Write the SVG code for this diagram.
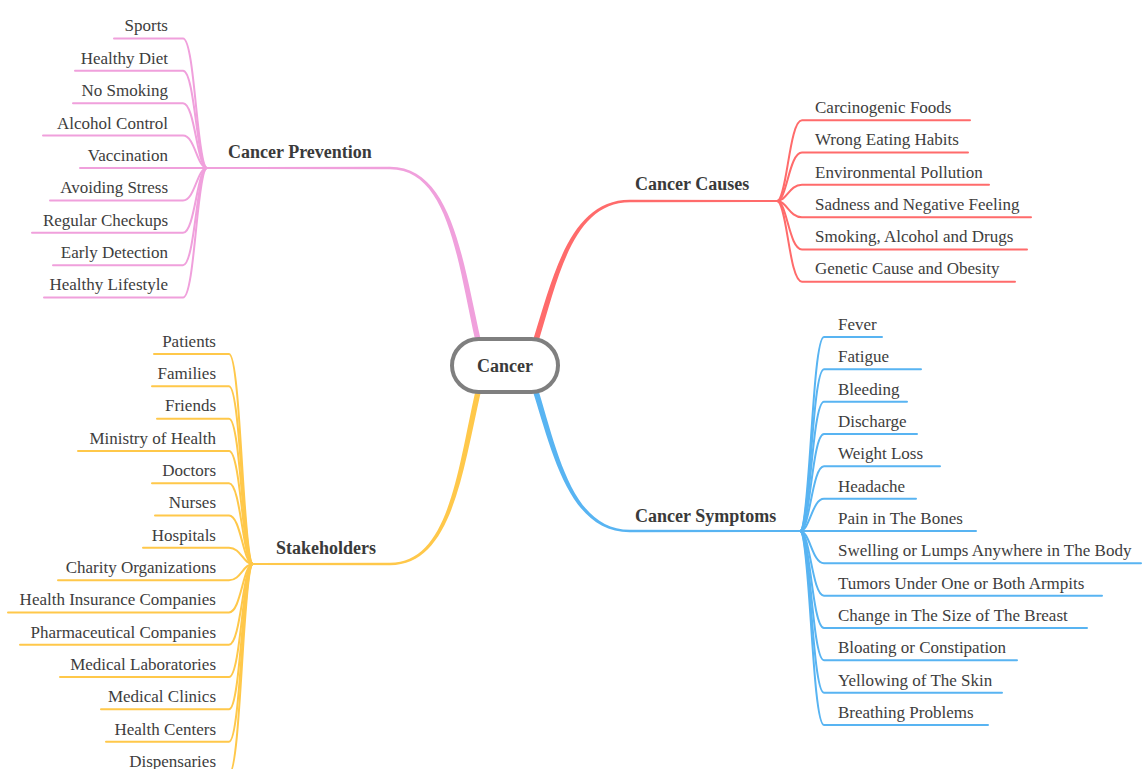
<svg xmlns="http://www.w3.org/2000/svg" width="1142" height="769" viewBox="0 0 1142 769">
<style>
.lf{font-family:"Liberation Serif","Times New Roman",serif;font-size:17px;fill:#3d3d3d}
.end{text-anchor:end}
.tt{font-family:"Liberation Serif","Times New Roman",serif;font-size:18px;font-weight:bold;fill:#3a3a3a}
.c{fill:none;stroke-width:2;stroke-linecap:round}
.pk{stroke:#F0A0DC}.rd{stroke:#FF6B6B}.bl{stroke:#58B4F2}.yl{stroke:#FFC84A}
</style>
<rect width="1142" height="769" fill="#fff"/>
<g id="connectors">
  <!-- main branches (tapered) -->
  <path fill="#F0A0DC" d="M475.3,340.6 C457.4,260.4 448.4,169.2 390,169.2 L207,169 L207,167 L390,166.8 C451.6,166.8 462.6,259.6 480.7,339.4 Z"/>
  <path fill="#FF6B6B" d="M533.3,339.2 C553.5,274.4 570.6,199.6 630,199.8 L777,200 L777,202 L630,202.2 C573.4,202.4 558.5,275.7 538.7,340.8 Z"/>
  <path fill="#58B4F2" d="M533.3,392.8 C553.5,457.6 570.6,532.4 630,532.2 L800,532 L800,530 L630,529.8 C573.4,529.6 558.5,456.3 538.7,391.2 Z"/>
  <path fill="#FFC84A" d="M475.3,391.4 C457.4,471.6 448.4,562.8 390,562.8 L253,563 L253,565 L390,565.2 C451.6,565.2 462.6,472.4 480.7,392.6 Z"/>
  <!-- prevention leaves -->
  <g class="c pk">
    <path d="M207,168 C197,168 195,38.4 183,38.4 L114,38.4"/>
    <path d="M207,168 C197,168 195,70.8 183,70.8 L75,70.8"/>
    <path d="M207,168 C197,168 195,103.2 183,103.2 L73,103.2"/>
    <path d="M207,168 C197,168 195,135.6 183,135.6 L43,135.6"/>
    <path d="M207,168 L80,168"/>
    <path d="M207,168 C197,168 195,200.4 183,200.4 L50,200.4"/>
    <path d="M207,168 C197,168 195,232.8 183,232.8 L32,232.8"/>
    <path d="M207,168 C197,168 195,265.2 183,265.2 L53,265.2"/>
    <path d="M207,168 C197,168 195,297.6 183,297.6 L44,297.6"/>
  </g>
  <!-- causes leaves -->
  <g class="c rd">
    <path d="M777,201 C787,201 789,120.25 802,120.25 L970,120.25"/>
    <path d="M777,201 C787,201 789,152.55 802,152.55 L968,152.55"/>
    <path d="M777,201 C787,201 789,184.85 802,184.85 L989,184.85"/>
    <path d="M777,201 C787,201 789,217.15 802,217.15 L1031,217.15"/>
    <path d="M777,201 C787,201 789,249.45 802,249.45 L1027,249.45"/>
    <path d="M777,201 C787,201 789,281.75 802,281.75 L1015,281.75"/>
  </g>
  <!-- symptoms leaves -->
  <g class="c bl">
    <path d="M800,531 C810,531 812,337 824,337 L882,337"/>
    <path d="M800,531 C810,531 812,369.3 824,369.3 L921,369.3"/>
    <path d="M800,531 C810,531 812,401.7 824,401.7 L907,401.7"/>
    <path d="M800,531 C810,531 812,434 824,434 L917,434"/>
    <path d="M800,531 C810,531 812,466.3 824,466.3 L940,466.3"/>
    <path d="M800,531 C810,531 812,498.7 824,498.7 L916,498.7"/>
    <path d="M800,531 L976,531"/>
    <path d="M800,531 C810,531 812,563.3 824,563.3 L1141,563.3"/>
    <path d="M800,531 C810,531 812,595.7 824,595.7 L1102,595.7"/>
    <path d="M800,531 C810,531 812,628 824,628 L1087,628"/>
    <path d="M800,531 C810,531 812,660.3 824,660.3 L1017,660.3"/>
    <path d="M800,531 C810,531 812,692.7 824,692.7 L1002,692.7"/>
    <path d="M800,531 C810,531 812,725 824,725 L988,725"/>
  </g>
  <!-- stakeholder leaves -->
  <g class="c yl">
    <path d="M253,564 C243,564 241,354.05 229,354.05 L154,354.05"/>
    <path d="M253,564 C243,564 241,386.35 229,386.35 L152,386.35"/>
    <path d="M253,564 C243,564 241,418.65 229,418.65 L157,418.65"/>
    <path d="M253,564 C243,564 241,450.95 229,450.95 L78,450.95"/>
    <path d="M253,564 C243,564 241,483.25 229,483.25 L152,483.25"/>
    <path d="M253,564 C243,564 241,515.55 229,515.55 L155,515.55"/>
    <path d="M253,564 C243,564 241,547.85 229,547.85 L143,547.85"/>
    <path d="M253,564 C243,564 241,580.15 229,580.15 L58,580.15"/>
    <path d="M253,564 C243,564 241,612.45 229,612.45 L8,612.45"/>
    <path d="M253,564 C243,564 241,644.75 229,644.75 L20,644.75"/>
    <path d="M253,564 C243,564 241,677.05 229,677.05 L60,677.05"/>
    <path d="M253,564 C243,564 241,709.35 229,709.35 L101,709.35"/>
    <path d="M253,564 C243,564 241,741.65 229,741.65 L106,741.65"/>
    <path d="M253,564 C243,564 241,773.95 229,773.95 L120,773.95"/>
  </g>
</g>
<g id="center">
  <rect x="452" y="339" width="106" height="53" rx="26.5" fill="#fff" stroke="#7f7f7f" stroke-width="4"/>
  <text class="tt" x="505" y="372" text-anchor="middle">Cancer</text>
</g>
<g id="prevention"><text class="tt" x="228" y="158">Cancer Prevention</text></g>
<g id="causes"><text class="tt" x="635" y="190">Cancer Causes</text></g>
<g id="symptoms"><text class="tt" x="635" y="522">Cancer Symptoms</text></g>
<g id="stakeholders"><text class="tt" x="276" y="554">Stakeholders</text></g>
<g id="prevention-leaves" class="lf end">
  <g id="p1"><text x="168" y="31">Sports</text></g>
  <g id="p2"><text x="168" y="64">Healthy Diet</text></g>
  <g id="p3"><text x="168" y="96">No Smoking</text></g>
  <g id="p4"><text x="168" y="129">Alcohol Control</text></g>
  <g id="p5"><text x="168" y="161">Vaccination</text></g>
  <g id="p6"><text x="168" y="193">Avoiding Stress</text></g>
  <g id="p7"><text x="168" y="226">Regular Checkups</text></g>
  <g id="p8"><text x="168" y="258">Early Detection</text></g>
  <g id="p9"><text x="168" y="290">Healthy Lifestyle</text></g>
</g>
<g id="causes-leaves" class="lf">
  <g id="c1"><text x="815" y="113">Carcinogenic Foods</text></g>
  <g id="c2"><text x="815" y="145">Wrong Eating Habits</text></g>
  <g id="c3"><text x="815" y="178">Environmental Pollution</text></g>
  <g id="c4"><text x="815" y="210">Sadness and Negative Feeling</text></g>
  <g id="c5"><text x="815" y="242">Smoking, Alcohol and Drugs</text></g>
  <g id="c6"><text x="815" y="274">Genetic Cause and Obesity</text></g>
</g>
<g id="symptoms-leaves" class="lf">
  <g id="s1"><text x="838" y="330">Fever</text></g>
  <g id="s2"><text x="838" y="362">Fatigue</text></g>
  <g id="s3"><text x="838" y="395">Bleeding</text></g>
  <g id="s4"><text x="838" y="427">Discharge</text></g>
  <g id="s5"><text x="838" y="459">Weight Loss</text></g>
  <g id="s6"><text x="838" y="492">Headache</text></g>
  <g id="s7"><text x="838" y="524">Pain in The Bones</text></g>
  <g id="s8"><text x="838" y="556">Swelling or Lumps Anywhere in The Body</text></g>
  <g id="s9"><text x="838" y="589">Tumors Under One or Both Armpits</text></g>
  <g id="s10"><text x="838" y="621">Change in The Size of The Breast</text></g>
  <g id="s11"><text x="838" y="653">Bloating or Constipation</text></g>
  <g id="s12"><text x="838" y="686">Yellowing of The Skin</text></g>
  <g id="s13"><text x="838" y="718">Breathing Problems</text></g>
</g>
<g id="stakeholder-leaves" class="lf end">
  <g id="k1"><text x="216" y="347">Patients</text></g>
  <g id="k2"><text x="216" y="379">Families</text></g>
  <g id="k3"><text x="216" y="411">Friends</text></g>
  <g id="k4"><text x="216" y="444">Ministry of Health</text></g>
  <g id="k5"><text x="216" y="476">Doctors</text></g>
  <g id="k6"><text x="216" y="508">Nurses</text></g>
  <g id="k7"><text x="216" y="541">Hospitals</text></g>
  <g id="k8"><text x="216" y="573">Charity Organizations</text></g>
  <g id="k9"><text x="216" y="605">Health Insurance Companies</text></g>
  <g id="k10"><text x="216" y="638">Pharmaceutical Companies</text></g>
  <g id="k11"><text x="216" y="670">Medical Laboratories</text></g>
  <g id="k12"><text x="216" y="702">Medical Clinics</text></g>
  <g id="k13"><text x="216" y="735">Health Centers</text></g>
  <g id="k14"><text x="216" y="767">Dispensaries</text></g>
</g>
</svg>
